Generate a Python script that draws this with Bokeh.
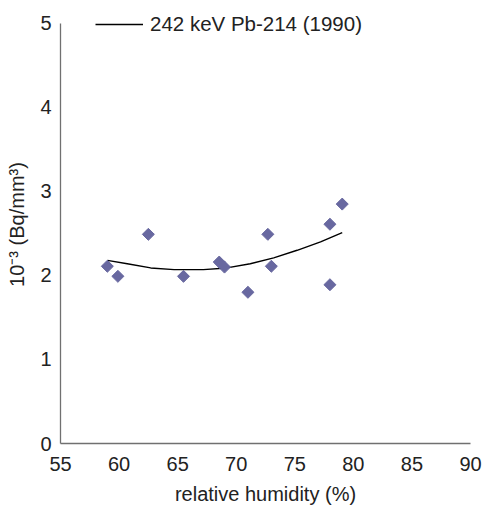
import numpy as np
from bokeh.plotting import figure
from bokeh.models import Legend, LegendItem, Range1d, FixedTicker
from bokeh.embed import file_html
from bokeh.resources import INLINE

# measured data (relative humidity %, activity 10^-3 Bq/mm^3)
humidity = [59.0, 59.9, 62.5, 65.5, 68.55, 69.0, 71.0, 72.7, 73.0, 78.0, 78.0, 79.05]
activity = [2.11, 1.99, 2.49, 1.99, 2.16, 2.10, 1.80, 2.49, 2.11, 2.61, 1.89, 2.85]

# trend line
trend_x = [59.0, 60.7, 62.7, 64.7, 67.2, 69.2, 71.2, 73.2, 75.2, 77.2, 79.05]
trend_y = [2.18, 2.14, 2.09, 2.07, 2.07, 2.09, 2.14, 2.21, 2.30, 2.40, 2.51]

x_ticks = [55, 60, 65, 70, 75, 80, 85, 90]
y_ticks = [0, 1, 2, 3, 4, 5]

series_label = "242 keV Pb-214 (1990)"
x_title = "relative humidity (%)"
y_title = "10\u207b\u00b3 (Bq/mm\u00b3)"

FONT = "Liberation Sans"

p = figure(width=487, height=507, output_backend="svg", toolbar_location=None,
           x_range=Range1d(55, 90), y_range=Range1d(0, 5.214),
           min_border_left=60, min_border_right=17, min_border_top=5,
           min_border_bottom=64)
p.outline_line_color = None
p.xgrid.visible = False
p.ygrid.visible = False
p.background_fill_color = "white"
p.border_fill_color = "white"

line_r = p.line(trend_x, trend_y, line_color="black", line_width=1.4)
p.scatter(humidity, activity, marker="square", angle=np.pi / 4, size=8.5,
          fill_color="#6868a0", line_color="#6868a0")

for ax in (p.xaxis[0], p.yaxis[0]):
    ax.major_tick_line_color = None
    ax.minor_tick_line_color = None
    ax.major_tick_out = 0
    ax.major_tick_in = 0
    ax.minor_tick_out = 0
    ax.axis_line_color = "#707070"
    ax.axis_line_width = 1.3
    ax.major_label_text_font = FONT
    ax.major_label_text_font_size = "20px"
    ax.major_label_text_color = "#222222"
    ax.axis_label_text_font = FONT
    ax.axis_label_text_font_size = "20px"
    ax.axis_label_text_font_style = "normal"
    ax.axis_label_text_color = "#222222"

p.xaxis[0].ticker = FixedTicker(ticks=x_ticks)
p.yaxis[0].ticker = FixedTicker(ticks=y_ticks)
p.yaxis[0].bounds = (0, 5)
p.xaxis[0].axis_label = x_title
p.yaxis[0].axis_label = y_title
p.xaxis[0].major_label_standoff = 13
p.xaxis[0].axis_label_standoff = 9
p.yaxis[0].major_label_standoff = 9
p.yaxis[0].axis_label_standoff = 9
p.yaxis[0].major_label_text_baseline = "alphabetic"

legend = Legend(items=[LegendItem(label=series_label, renderers=[line_r])],
                location=(35, 407), padding=0, margin=0, spacing=0,
                glyph_width=48, glyph_height=20, label_standoff=7,
                label_text_font=FONT, label_text_font_size="20.5px",
                label_text_color="#222222",
                border_line_color=None, background_fill_alpha=0)
p.add_layout(legend)

open("out.html", "w").write(file_html(p, INLINE))
